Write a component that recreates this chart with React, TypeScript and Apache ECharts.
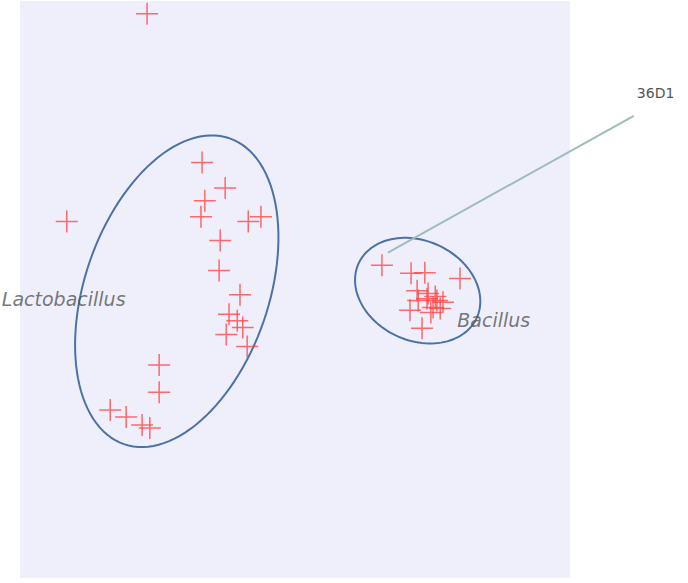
import React, { useEffect, useRef } from "react";
import * as echarts from "echarts";

// Sample scores (arbitrary 0-100 units, y up)
const lactobacillusPoints: [number, number][] = [
  [33.1, 72.0], [37.3, 67.6], [33.6, 65.4], [32.9, 62.6], [41.5, 61.8],
  [43.8, 62.6], [36.4, 58.5], [36.2, 53.3], [40.0, 49.1], [38.0, 45.7],
  [39.5, 44.6], [40.5, 43.4], [37.5, 42.2], [41.3, 40.1], [25.3, 36.9],
  [25.3, 32.2], [16.4, 29.1], [19.3, 27.9], [22.2, 26.5], [23.6, 26.0],
];
const bacillusPoints: [number, number][] = [
  [65.8, 54.2], [71.1, 52.8], [73.6, 52.9], [80.0, 51.9], [72.2, 49.8],
  [74.2, 49.3], [74.0, 48.4], [72.4, 48.1], [75.8, 48.1], [76.9, 47.8],
  [75.1, 46.9], [76.4, 46.7], [70.9, 46.4], [73.1, 43.3], [75.5, 48.8],
  [74.7, 46.0],
];
const outlierPoints: [number, number][] = [
  [23.1, 97.8], [8.5, 61.8],
];

// Ellipses: centre, first semi-axis vector, second semi-axis vector (data units)
const lactoEllipse = { c: [28.5, 49.7], a: [9.6, 26.5], b: [15.8, -5.2] };
const bacillusEllipse = { c: [72.3, 49.8], a: [10.7, -4.8], b: [3.9, 7.8] };

const groupLabels = [
  { name: "Lactobacillus", pos: [-3.3, 48.4] },
  { name: "Bacillus", pos: [79.5, 44.8] },
];

const leaderLine: [number, number][] = [[66.9, 56.4], [111.6, 80.1]];
const leaderLabel = "36D1";

// Plot area extent (shaded region) and full x range (room for the callout)
const plotExtent = { xMin: 0, xMax: 100, yMin: 0, yMax: 100 };
const xRangeMax = 121.45;

function ellipsePoints(e: { c: number[]; a: number[]; b: number[] }) {
  const pts: [number, number][] = [];
  const n = 120;
  for (let i = 0; i <= n; i++) {
    const t = (i / n) * Math.PI * 2;
    pts.push([
      e.c[0] + Math.cos(t) * e.a[0] + Math.sin(t) * e.b[0],
      e.c[1] + Math.cos(t) * e.a[1] + Math.sin(t) * e.b[1],
    ]);
  }
  return pts;
}

const plusSymbol = "path://M0,11 L22,11 M11,0 L11,22";

export default function App() {
  const ref = useRef<HTMLDivElement>(null);
  useEffect(() => {
    document.body.style.margin = "0";
    if (!ref.current) return;
    const chart = echarts.init(ref.current, undefined, { renderer: "svg" });
    const markerStyle = {
      color: "rgba(0,0,0,0)",
      borderColor: "#ff4646",
      borderWidth: 1.5,
    };
    const ellipseStyle = { color: "#4a72a6", width: 2 };
    chart.setOption({
      animation: false,
      grid: {
        left: 20,
        right: 0,
        top: 1,
        height: 577,
        show: false,
      },
      xAxis: { type: "value", min: 0, max: xRangeMax, show: false },
      yAxis: { type: "value", min: 0, max: 100, show: false },
      series: [
        {
          type: "line",
          data: ellipsePoints(lactoEllipse),
          showSymbol: false,
          symbol: "none",
          lineStyle: ellipseStyle,
          clip: false,
          z: 2,
          markArea: {
            silent: true,
            itemStyle: { color: "#efeffc" },
            data: [
              [
                { coord: [plotExtent.xMin, plotExtent.yMin] },
                { coord: [plotExtent.xMax, plotExtent.yMax] },
              ],
            ],
            z: 0,
          },
        },
        {
          type: "line",
          data: ellipsePoints(bacillusEllipse),
          showSymbol: false,
          symbol: "none",
          lineStyle: ellipseStyle,
          clip: false,
          z: 2,
        },
        {
          type: "line",
          data: leaderLine,
          showSymbol: false,
          symbol: "none",
          lineStyle: { color: "#9dbcbc", width: 2 },
          clip: false,
          z: 2,
          endLabel: {
            show: true,
            formatter: leaderLabel,
            distance: 0,
            offset: [3, -23],
            color: "#555",
            fontFamily: "DejaVu Sans",
            fontSize: 14,
          },
        },
        {
          type: "scatter",
          data: [...lactobacillusPoints, ...bacillusPoints, ...outlierPoints],
          symbol: plusSymbol,
          symbolSize: 22,
          itemStyle: markerStyle,
          clip: false,
          z: 3,
        },
        {
          type: "scatter",
          data: groupLabels.map((g) => ({ value: g.pos, name: g.name })),
          symbolSize: 0,
          clip: false,
          silent: true,
          label: {
            show: true,
            position: "right",
            distance: 0,
            formatter: "{b}",
            fontFamily: "DejaVu Sans",
            fontStyle: "italic",
            fontSize: 19,
            color: "#555",
          },
          z: 4,
        },
      ],
    });
    return () => chart.dispose();
  }, []);
  return (
    <div
      ref={ref}
      style={{ position: "absolute", left: 0, top: 0, width: 688, height: 583 }}
    />
  );
}
